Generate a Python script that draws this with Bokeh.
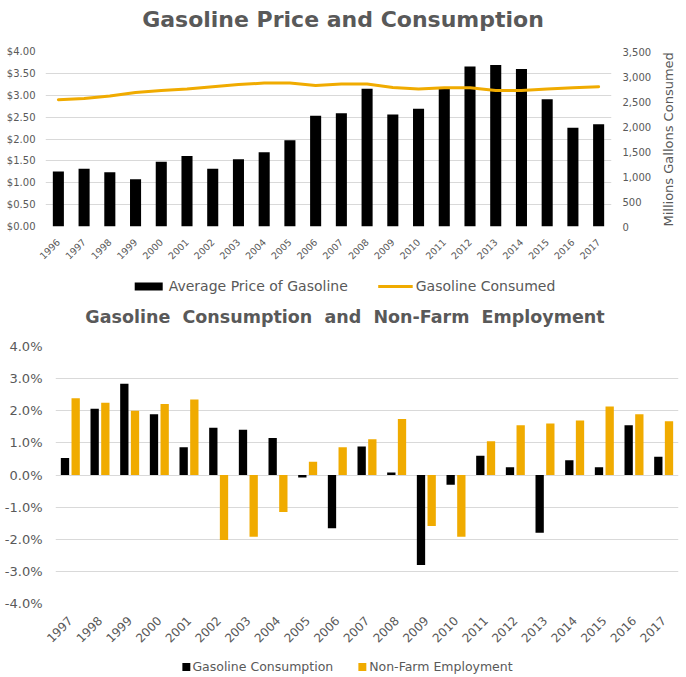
from bokeh.plotting import figure
from bokeh.models import (Range1d, LinearAxis, FactorRange, FixedTicker, NumeralTickFormatter,
                          PrintfTickFormatter, Legend, LegendItem, ColumnDataSource)
from bokeh.transform import dodge
from bokeh.embed import file_html
from bokeh.resources import INLINE
import math

# ---------------- data ----------------
years_top = ["1996", "1997", "1998", "1999", "2000", "2001", "2002", "2003", "2004", "2005", "2006",
             "2007", "2008", "2009", "2010", "2011", "2012", "2013", "2014", "2015", "2016", "2017"]
avg_price = [1.26, 1.32, 1.24, 1.08, 1.48, 1.61, 1.32, 1.54, 1.70, 1.97, 2.53,
             2.59, 3.15, 2.56, 2.69, 3.18, 3.66, 3.69, 3.60, 2.91, 2.26, 2.34]
gallons = [2535, 2562, 2608, 2682, 2722, 2748, 2795, 2841, 2868, 2868, 2821,
           2848, 2848, 2781, 2748, 2775, 2775, 2722, 2722, 2748, 2775, 2795]

years_bot = ["1997", "1998", "1999", "2000", "2001", "2002", "2003", "2004", "2005", "2006", "2007",
             "2008", "2009", "2010", "2011", "2012", "2013", "2014", "2015", "2016", "2017"]
gas_consumption = [0.53, 2.06, 2.84, 1.89, 0.86, 1.47, 1.41, 1.15, -0.08, -1.66, 0.89,
                   0.08, -2.80, -0.30, 0.60, 0.24, -1.80, 0.46, 0.24, 1.55, 0.57]
nonfarm_emp = [2.39, 2.25, 2.00, 2.21, 2.35, -2.02, -1.92, -1.15, 0.41, 0.86, 1.11,
               1.74, -1.59, -1.92, 1.05, 1.55, 1.60, 1.70, 2.13, 1.89, 1.67]

price_ticks = [0, 0.5, 1, 1.5, 2, 2.5, 3, 3.5, 4]
gallon_ticks = [0, 500, 1000, 1500, 2000, 2500, 3000, 3500]
pct_ticks = [-4, -3, -2, -1, 0, 1, 2, 3, 4]

TITLE_TOP = "Gasoline Price and Consumption"
TITLE_BOT = "Gasoline\u00a0 Consumption\u00a0 and\u00a0 Non-Farm\u00a0 Employment"
RIGHT_TITLE = "Millions Gallons Consumed"

ORANGE = "#F0AB00"
TEXT = "#595959"
GRID = "#D9D9D9"
FONT = "DejaVu Sans"
W = 686


def style_axis(ax, size, standoff):
    ax.axis_line_color = None
    ax.major_tick_line_color = None
    ax.minor_tick_line_color = None
    ax.major_tick_out = 0
    ax.major_tick_in = 0
    ax.minor_tick_out = 0
    ax.minor_tick_in = 0
    ax.major_label_text_font = FONT
    ax.major_label_text_font_size = size
    ax.major_label_text_color = TEXT
    ax.major_label_standoff = standoff


def legend_figure(height, shift, items_spec, font_size, spacing, gw, gh, standoff, bold=False):
    lf = figure(width=W, height=height, x_range=Range1d(0, 1), y_range=Range1d(0, 1),
                output_backend="svg", toolbar_location=None, title=None,
                min_border_left=shift, min_border_right=0, min_border_top=0, min_border_bottom=0)
    lf.outline_line_color = None
    lf.axis.visible = False
    lf.grid.visible = False
    items = []
    for label, kind, color in items_spec:
        # legend-only renderers, their single point lies outside the visible range
        if kind == "bar":
            r = lf.vbar(x=[5], top=[6], bottom=[5], width=0.1, fill_color=color, line_color=None)
        elif kind == "line":
            r = lf.line(x=[5, 6], y=[5, 5], line_color=color, line_width=3)
        else:
            r = lf.line(x=[5, 6], y=[5, 5], line_color=color, line_alpha=0)
        items.append(LegendItem(label=label, renderers=[r]))
    leg = Legend(items=items, orientation="horizontal", location="center", spacing=spacing,
                 glyph_width=gw, glyph_height=gh, label_standoff=standoff, label_height=gh,
                 label_text_font=FONT, label_text_font_size=font_size, label_text_color=TEXT,
                 label_text_font_style="bold" if bold else "normal",
                 border_line_color=None, background_fill_alpha=0, padding=0, margin=0)
    lf.add_layout(leg)
    return lf


# ---------------- top chart ----------------
title1 = legend_figure(38, 0, [(TITLE_TOP, "none", TEXT)], "22px", 0, 0, 22, 0, bold=True)

src1 = ColumnDataSource(dict(year=years_top, price=avg_price, gal=gallons))
p1 = figure(width=W, height=234, x_range=FactorRange(*years_top), y_range=Range1d(0, 4),
            output_backend="svg", toolbar_location=None, title=None,
            min_border_left=45, min_border_right=72, min_border_top=13, min_border_bottom=46)
p1.outline_line_color = None
p1.extra_y_ranges = {"gal": Range1d(0, 3500)}

bars1 = p1.vbar(x="year", top="price", width=0.43, source=src1, fill_color="black", line_color=None)
line1 = p1.line(x="year", y="gal", y_range_name="gal", source=src1, line_color=ORANGE,
                line_width=3, line_join="round", line_cap="round")

p1.yaxis.ticker = FixedTicker(ticks=price_ticks)
p1.yaxis.formatter = NumeralTickFormatter(format="$0.00")
rax = LinearAxis(y_range_name="gal", ticker=FixedTicker(ticks=gallon_ticks),
                 formatter=NumeralTickFormatter(format="0,0"))
p1.add_layout(rax, "right")
# right-axis title: one rotated label that starts at the bottom of the axis
rtitle = LinearAxis(y_range_name="gal", ticker=FixedTicker(ticks=[0]),
                    major_label_overrides={0: RIGHT_TITLE})
p1.add_layout(rtitle, "right")
style_axis(p1.yaxis[0], "10px", 10)
style_axis(rax, "10px", 11)
style_axis(rtitle, "13px", 14)
rtitle.major_label_orientation = math.pi / 2
style_axis(p1.xaxis[0], "9.5px", 14)
p1.xaxis[0].major_label_orientation = math.pi / 4
p1.xgrid.grid_line_color = None
p1.ygrid.grid_line_color = GRID
p1.ygrid.ticker = FixedTicker(ticks=price_ticks)

leg1 = legend_figure(28, 0, [("Average Price of Gasoline", "bar", "black"),
                             ("Gasoline Consumed", "line", ORANGE)],
                     "14px", 30, 35, 10, 3)

# ---------------- bottom chart ----------------
title2 = legend_figure(34, 4, [(TITLE_BOT, "none", TEXT)], "17.5px", 0, 0, 18, 0, bold=True)

src2 = ColumnDataSource(dict(year=years_bot, cons=gas_consumption, emp=nonfarm_emp))
p2 = figure(width=W, height=321, x_range=FactorRange(*years_bot), y_range=Range1d(-4, 4),
            output_backend="svg", toolbar_location=None, title=None,
            min_border_left=55, min_border_right=8, min_border_top=12, min_border_bottom=52)
p2.outline_line_color = None

b_cons = p2.vbar(x=dodge("year", -0.18, range=p2.x_range), top="cons", width=0.28, source=src2,
                 fill_color="black", line_color=None)
b_emp = p2.vbar(x=dodge("year", 0.18, range=p2.x_range), top="emp", width=0.28, source=src2,
                fill_color=ORANGE, line_color=None)

p2.yaxis.ticker = FixedTicker(ticks=pct_ticks)
p2.yaxis.formatter = PrintfTickFormatter(format="%.1f%%")
style_axis(p2.yaxis[0], "13px", 13)
style_axis(p2.xaxis[0], "12px", 15)
p2.xaxis[0].major_label_orientation = math.pi / 4
p2.xgrid.grid_line_color = None
p2.ygrid.grid_line_color = GRID
p2.ygrid.ticker = FixedTicker(ticks=pct_ticks)

leg2 = legend_figure(22, 7, [("Gasoline Consumption", "bar", "black"),
                             ("Non-Farm Employment", "bar", ORANGE)],
                     "12.5px", 24, 10, 10, 2)

open("out.html", "w").write(file_html([title1, p1, leg1, title2, p2, leg2], INLINE))
